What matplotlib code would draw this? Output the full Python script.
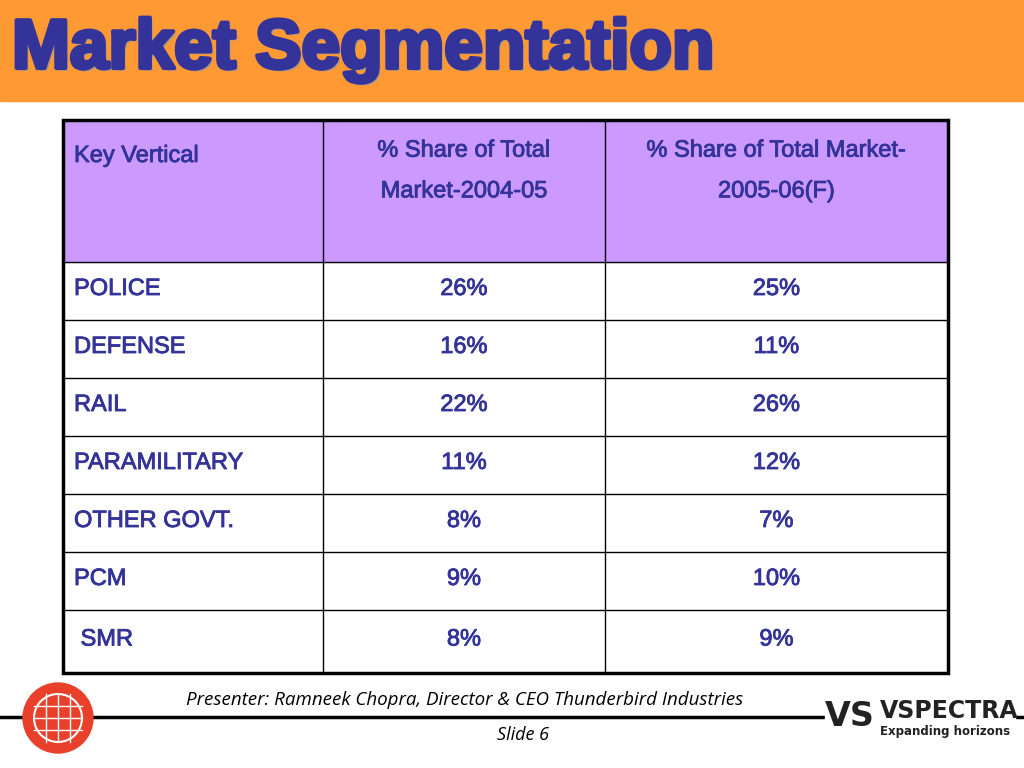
import matplotlib
matplotlib.use("Agg")
import matplotlib.pyplot as plt
from matplotlib.patches import Rectangle, Circle
import matplotlib.patheffects as pe

title = "Market Segmentation"
headers = ["Key Vertical", "% Share of Total\nMarket-2004-05", "% Share of Total Market-\n2005-06(F)"]
verticals = ["POLICE", "DEFENSE", "RAIL", "PARAMILITARY", "OTHER GOVT.", "PCM", " SMR"]
share_2004 = ["26%", "16%", "22%", "11%", "8%", "9%", "8%"]
share_2005 = ["25%", "11%", "26%", "12%", "7%", "10%", "9%"]

W, H = 1024, 768
fig = plt.figure(figsize=(W/100, H/100), dpi=100)
ax = fig.add_axes([0, 0, 1, 1])
ax.set_xlim(0, W); ax.set_ylim(H, 0); ax.axis("off")

navy = "#333399"
ax.add_patch(Rectangle((0, 0), W, 101, color="#FF9933", zorder=0))
ax.text(12, 50, title, fontsize=50, fontweight="bold", color=navy, va="center", family="Liberation Sans",
        path_effects=[pe.withSimplePatchShadow(offset=(2, -2), shadow_rgbFace="#999999", alpha=0.8),
                      pe.withStroke(linewidth=3, foreground=navy)])

xs = [63, 323, 605, 948]
ys = [120, 262, 320, 378, 436, 494, 552, 610, 673]
ax.add_patch(Rectangle((xs[0], ys[0]), xs[-1]-xs[0], ys[1]-ys[0], color="#CC99FF", zorder=1))
for x in xs[1:-1]:
    ax.plot([x, x], [ys[0], ys[-1]], color="black", lw=1, zorder=2)
for y in ys[1:-1]:
    ax.plot([xs[0], xs[-1]], [y, y], color="black", lw=1, zorder=2)
ax.add_patch(Rectangle((xs[0], ys[0]), xs[-1]-xs[0], ys[-1]-ys[0], fill=False, ec="black", lw=2.5, zorder=3))

fs = 17
st = [pe.withStroke(linewidth=0.6, foreground=navy)]
kw = dict(fontsize=fs, color=navy, va="center", family="Liberation Sans", path_effects=st)
ax.text(74, 156, headers[0], **kw)
for i, h in enumerate(headers[1:]):
    cx = (xs[i+1] + xs[i+2]) / 2
    ax.text(cx, 171, h, ha="center", linespacing=2.1, **kw)
for r in range(len(verticals)):
    cy = (ys[r+1] + ys[r+2]) / 2 - 2
    ax.text(74, cy, verticals[r], **kw)
    ax.text((xs[1]+xs[2])/2, cy, share_2004[r], ha="center", **kw)
    ax.text((xs[2]+xs[3])/2, cy, share_2005[r], ha="center", **kw)

# footer
ax.plot([0, 1024], [717, 717], color="black", lw=2.5, zorder=1)
ax.text(465, 700, "Presenter: Ramneek Chopra, Director & CEO Thunderbird Industries",
        fontsize=13.5, style="italic", ha="center", va="center", family="Open Sans",
        bbox=dict(fc="white", ec="none", pad=1))
ax.text(523, 735, "Slide 6", fontsize=13, style="italic", ha="center", va="center", family="Open Sans")
ax.add_patch(Circle((58, 718), 35, color="#E8402A", zorder=2))
ax.add_patch(Circle((58, 718), 24, fill=False, ec="white", lw=1.5, zorder=3))
for d in (-12, 0, 12):
    ax.plot([34, 82], [718+d, 718+d], color="white", lw=1, zorder=3)
    ax.plot([58+d, 58+d], [694, 742], color="white", lw=1, zorder=3)
ax.add_patch(Rectangle((825, 697), 190, 42, color="white", zorder=2))
ax.text(850, 717, "VS", fontsize=24, fontweight="bold", color="#222222", ha="center", va="center", zorder=3)
ax.text(880, 711, "VSPECTRA", fontsize=17, fontweight="bold", color="#222222", va="center", zorder=3)
ax.text(880, 731, "Expanding horizons", fontsize=8.5, fontweight="bold", color="#222222", va="center", zorder=3)

fig.savefig("out.png", dpi=100, facecolor="white")
